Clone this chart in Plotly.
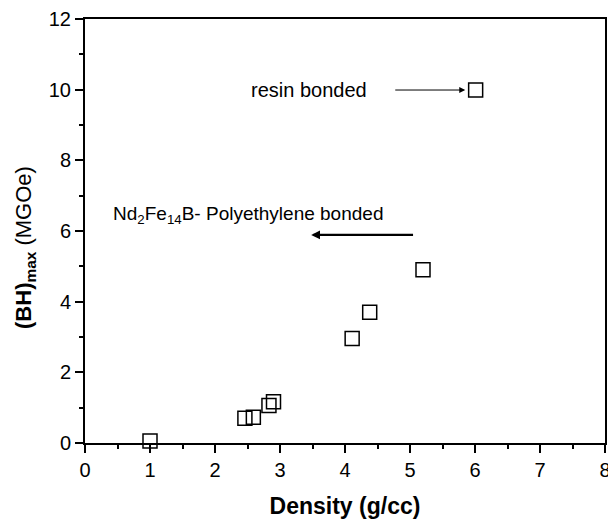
import plotly.graph_objects as go

density = [1.0, 2.46, 2.59, 2.83, 2.90, 4.11, 4.38, 5.20, 6.01]
bhmax = [0.06, 0.70, 0.73, 1.06, 1.17, 2.96, 3.70, 4.90, 9.99]

x_ticks = [0, 1, 2, 3, 4, 5, 6, 7, 8]
y_ticks = [0, 2, 4, 6, 8, 10, 12]

FONT = "Liberation Sans, Arial, sans-serif"

fig = go.Figure()
fig.add_trace(go.Scatter(
    x=density, y=bhmax, mode="markers",
    marker=dict(symbol="square-open", size=14, color="black", line=dict(width=1.5, color="black")),
    showlegend=False, cliponaxis=False,
))

axis_common = dict(
    showline=True, linecolor="black", linewidth=2, mirror=True,
    ticks="outside", ticklen=8, tickwidth=2, tickcolor="black",
    showgrid=False, zeroline=False,
    tickfont=dict(family=FONT, size=20, color="black"),
    ticklabeloverflow="allow",
    automargin=False,
)

fig.update_xaxes(
    range=[0, 8], tickvals=x_ticks,
    minor=dict(ticks="outside", ticklen=4, tickwidth=2, tickcolor="black", dtick=0.5, showgrid=False),
    title=dict(text="<b>Density (g/cc)</b>", font=dict(family=FONT, size=23, color="black"), standoff=20),
    **axis_common,
)
fig.update_yaxes(
    range=[0, 12], tickvals=y_ticks,
    minor=dict(ticks="outside", ticklen=4, tickwidth=2, tickcolor="black", dtick=1, showgrid=False),
    **axis_common,
)

# y-axis title as annotation (placed like the reference)
fig.add_annotation(
    x=0, y=0.46, xref="paper", yref="paper", xshift=-60,
    text="<b>(BH)<sub>max</sub></b> (MGOe)",
    textangle=-90, showarrow=False, xanchor="center", yanchor="middle",
    font=dict(family=FONT, size=22, color="black"),
)

# text labels
fig.add_annotation(x=3.45, y=9.99, text="resin bonded", showarrow=False,
                   font=dict(family=FONT, size=20, color="black"), xanchor="center", yanchor="middle")
fig.add_annotation(x=2.5, y=6.45,
                   text="Nd<sub>2</sub>Fe<sub>14</sub>B- Polyethylene bonded", showarrow=False,
                   font=dict(family=FONT, size=19, color="black"), xanchor="center", yanchor="middle")

# arrows
fig.add_annotation(x=5.85, y=9.99, ax=4.75, ay=9.99, xref="x", yref="y", axref="x", ayref="y",
                   text="", showarrow=True, arrowhead=2, arrowsize=1.2, arrowwidth=1, arrowcolor="black")
fig.add_annotation(x=3.48, y=5.89, ax=5.07, ay=5.89, xref="x", yref="y", axref="x", ayref="y",
                   text="", showarrow=True, arrowhead=2, arrowsize=0.8, arrowwidth=2.2, arrowcolor="black")

fig.update_layout(
    width=608, height=519,
    margin=dict(l=85, r=3, t=19, b=76),
    paper_bgcolor="white", plot_bgcolor="white",
    font=dict(family=FONT, color="black"),
)

fig.write_html("out.html")
